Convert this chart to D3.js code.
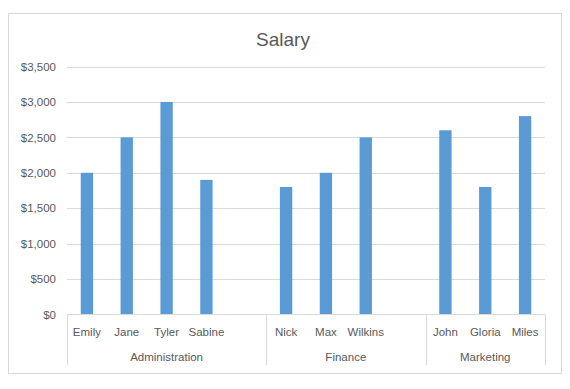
<!DOCTYPE html>
<html><head><meta charset="utf-8">
<script src="https://cdn.jsdelivr.net/npm/d3@7/dist/d3.min.js"></script>
<style>body{margin:0;background:#fff}svg{display:block}text{font-family:"Liberation Sans","Open Sans",sans-serif;fill:#595959}</style>
</head><body>
<script>
const groups = ["Administration", "Finance", "Marketing"];
const groupSlots = [5, 4, 3];
const names = ["Emily", "Jane", "Tyler", "Sabine", "Nick", "Max", "Wilkins", "John", "Gloria", "Miles"];
const nameGroup = ["Administration", "Administration", "Administration", "Administration", "Finance", "Finance", "Finance", "Marketing", "Marketing", "Marketing"];
const salaries = [2000, 2500, 3000, 1900, 1800, 2000, 2500, 2600, 1800, 2800];
const yTicks = [0, 500, 1000, 1500, 2000, 2500, 3000, 3500];

(function () {
const W = 570, H = 389;
const svg = d3.select("body").append("svg").attr("width", W).attr("height", H);
svg.append("rect").attr("x", 8.5).attr("y", 13.5).attr("width", 553).attr("height", 360)
  .attr("fill", "#fff").attr("stroke", "#D9D9D9");

svg.append("text").attr("x", 283).attr("y", 46).attr("text-anchor", "middle")
  .style("font-size", "19px").text("Salary");

const pLeft = 67, pRight = 545, pTop = 66.5, pBottom = 314.5;

const slots = [];
groups.forEach((g, gi) => {
  const members = names.filter((n, i) => nameGroup[i] === g);
  for (let k = 0; k < groupSlots[gi]; k++) slots.push(k < members.length ? members[k] : g + "_blank" + k);
});

const x = d3.scaleBand().domain(slots).range([pLeft, pRight]).padding(0);
const y = d3.scaleLinear().domain([0, 3500]).range([pBottom, pTop]);

svg.append("g").selectAll("line").data(yTicks.filter(t => t > 0)).join("line")
  .attr("x1", pLeft).attr("x2", pRight)
  .attr("y1", d => Math.round(y(d)) + 0.5).attr("y2", d => Math.round(y(d)) + 0.5)
  .attr("stroke", "#D9D9D9");

const yAxis = d3.axisLeft(y).tickValues(yTicks).tickSize(0).tickPadding(11)
  .tickFormat(d => "$" + d3.format(",")(d));
const ya = svg.append("g").attr("transform", `translate(${pLeft},0)`).call(yAxis);
ya.select(".domain").remove();
ya.selectAll("text").style("font-size", "11.5px").attr("fill", "#595959").style("font-family", '"Liberation Sans",sans-serif');

const bw = x.bandwidth() * 0.31;
svg.append("g").selectAll("rect").data(names).join("rect")
  .attr("x", d => x(d) + x.bandwidth() / 2 - bw / 2)
  .attr("width", bw)
  .attr("y", (d, i) => y(salaries[i]))
  .attr("height", (d, i) => y(0) - y(salaries[i]))
  .attr("fill", "#5B9BD5");

svg.append("line").attr("x1", pLeft).attr("x2", pRight).attr("y1", pBottom).attr("y2", pBottom).attr("stroke", "#D9D9D9");

svg.append("g").selectAll("text").data(names).join("text")
  .attr("x", d => x(d) + x.bandwidth() / 2).attr("y", 336)
  .attr("text-anchor", "middle").style("font-size", "11.5px").text(d => d);

let acc = 0;
const bounds = [pLeft];
groupSlots.forEach(n => { acc += n; bounds.push(x(slots[acc - 1]) + x.bandwidth()); });
svg.append("g").selectAll("line").data(bounds).join("line")
  .attr("x1", d => Math.round(d) + 0.5).attr("x2", d => Math.round(d) + 0.5)
  .attr("y1", pBottom).attr("y2", 365).attr("stroke", "#D9D9D9");
svg.append("g").selectAll("text").data(groups).join("text")
  .attr("x", (d, i) => (bounds[i] + bounds[i + 1]) / 2).attr("y", 361)
  .attr("text-anchor", "middle").style("font-size", "11.5px").text(d => d);
})();
</script>
</body></html>
